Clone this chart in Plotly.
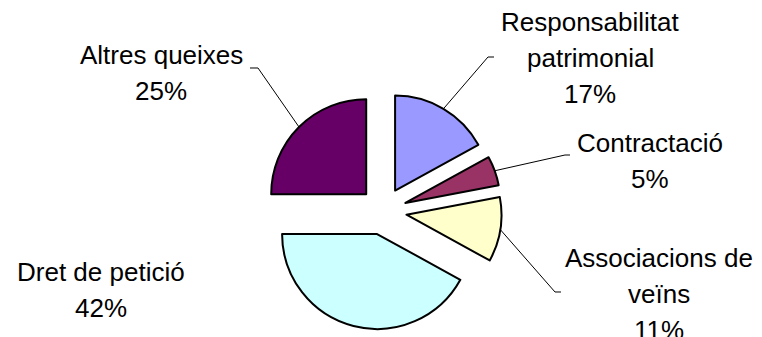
import math
import plotly.graph_objects as go

W, H = 762, 337
OFF = 8                 # page body margin
FW, FH = W - OFF, H - OFF

labels = ["Responsabilitat\npatrimonial", "Contractació", "Associacions de\nveïns",
          "Dret de petició", "Altres queixes"]
values = [17, 5, 11, 42, 25]
colors = ["#9999FF", "#993366", "#FFFFCC", "#CCFFFF", "#660066"]

# label placement (window pixels): centre x, first line y
label_pos = [(590, 22), (650, 143), (659, 258), (101, 272), (161, 55)]
# leader line knee and end (window pixels), None = no leader
leaders = [((488, 57), (494, 57)), ((565, 155), (570, 155)), ((555, 292), (561, 292)),
           None, ((258, 68), (250, 68))]

cx, cy, r, pull = 383, 211, 95, 0.25
half = r * (1 + pull)
line_gap = 36


def px(x, y):
    return (x - OFF) / FW, 1 - (y - OFF) / FH


x0, y1 = px(cx - half, cy - half)
x1, y0 = px(cx + half, cy + half)

fig = go.Figure(go.Pie(
    labels=[l.replace("\n", " ") for l in labels],
    values=values,
    sort=False,
    direction="clockwise",
    rotation=0,
    pull=[pull] * len(values),
    marker=dict(colors=colors, line=dict(color="black", width=2)),
    textinfo="none",
    hoverinfo="label+percent",
    showlegend=False,
    domain=dict(x=[x0, x1], y=[y0, y1]),
))

total = sum(values)
annotations = []
shapes = []
cum = 0
for lab, v, pos, ld in zip(labels, values, label_pos, leaders):
    mid = (cum + v / 2) / total * 2 * math.pi
    cum += v
    lines = lab.split("\n") + [f"{round(v / total * 100)}%"]
    for i, t in enumerate(lines):
        x, y = px(pos[0], pos[1] + i * line_gap)
        annotations.append(dict(x=x, y=y, xref="paper", yref="paper", text=t,
                                showarrow=False, xanchor="center", yanchor="middle",
                                font=dict(family="Liberation Sans, Arial", size=26, color="black")))
    if ld:
        sx = cx + r * (1 + pull) * math.sin(mid)
        sy = cy - r * (1 + pull) * math.cos(mid)
        pts = [(sx, sy), ld[0], ld[1]]
        path = "M " + " L ".join(f"{px(a, b)[0]:.5f},{px(a, b)[1]:.5f}" for a, b in pts)
        shapes.append(dict(type="path", path=path, xref="paper", yref="paper",
                           line=dict(color="black", width=1)))

fig.update_layout(
    width=FW, height=FH,
    margin=dict(l=0, r=0, t=0, b=0),
    paper_bgcolor="white",
    plot_bgcolor="white",
    annotations=annotations,
    shapes=shapes,
)

fig.write_html("out.html")
